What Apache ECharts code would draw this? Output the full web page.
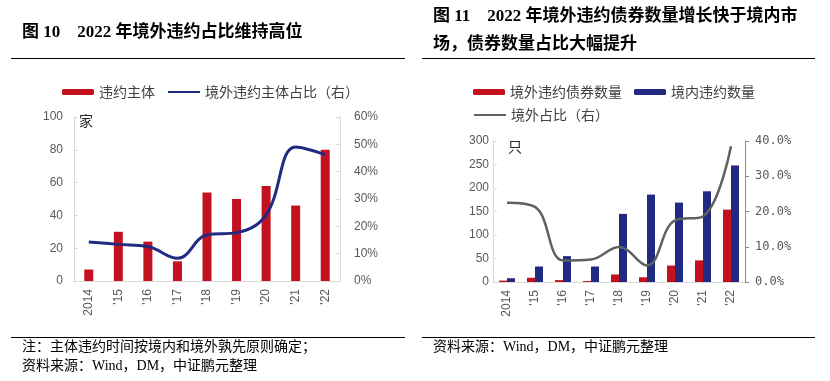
<!DOCTYPE html>
<html><head><meta charset="utf-8">
<script src="https://cdn.jsdelivr.net/npm/echarts@6/dist/echarts.min.js"></script>
<style>html,body{margin:0;padding:0;background:#fff}#c{width:830px;height:381px}</style>
</head><body><div id="c"></div>
<script>
// Chart 1 (left)
const categories = ['2014', "'15", "'16", "'17", "'18", "'19", "'20", "'21", "'22"];
const defaultEntities = [7, 30, 24, 12, 54, 50, 58, 46, 80];
const overseasEntityShare = [14.3, 13.4, 12.6, 8.3, 16.9, 17.7, 24.2, 49.0, 46.2];
// Chart 2 (right)
const overseasBonds = [3, 9, 4, 2, 16, 10, 35, 46, 154];
const domesticBonds = [8, 33, 55, 33, 145, 186, 169, 193, 248];
const overseasBondShare = [22.5, 21.3, 6.1, 6.4, 9.9, 4.7, 17.5, 18.6, 38.5];
const leftTicks = { min: 0, max: 100, interval: 20 };
const leftPctTicks = { min: 0, max: 60, interval: 10 };
const rightTicks = { min: 0, max: 300, interval: 50 };
const rightPctTicks = { min: 0, max: 40, interval: 10 };

const RED = '#C3111F', NAVY = '#1F2A80', GRAY = '#606060';
const LBL = { color: '#595959', fontSize: 12, fontFamily: 'Liberation Sans, Noto Sans CJK SC' };
const AX = '#D9D9D9';
const CJK = 'Liberation Serif, Noto Sans CJK SC';
const LEG_TXT = { fontSize: 14, color: '#404040', fontFamily: 'Noto Sans CJK SC' };

const chart = echarts.init(document.getElementById('c'), null, { renderer: 'canvas' });
chart.setOption({
  animation: false,
  backgroundColor: '#fff',
  grid: [
    { left: 74, right: 490, top: 117, bottom: 100 },
    { left: 493, right: 85, top: 141, bottom: 99 }
  ],
  legend: [
    { left: 57, top: 80, itemWidth: 32, itemHeight: 6, itemGap: 12,
      data: ['违约主体', { name: '境外违约主体占比（右）', itemStyle: { opacity: 0 } }], textStyle: LEG_TXT },
    { left: 468, top: 80, itemWidth: 32, itemHeight: 6, itemGap: 12, data: ['境外违约债券数量', '境内违约数量'], textStyle: LEG_TXT },
    { left: 468, top: 103, itemWidth: 32, itemHeight: 6,
      data: [{ name: '境外占比（右）', itemStyle: { opacity: 0 } }], textStyle: LEG_TXT }
  ],
  xAxis: [
    { type: 'category', gridIndex: 0, data: categories, axisLine: { lineStyle: { color: AX } }, axisTick: { show: false },
      axisLabel: Object.assign({ rotate: 90, margin: 8, interval: 0 }, LBL) },
    { type: 'category', gridIndex: 1, data: categories, axisLine: { lineStyle: { color: AX } }, axisTick: { show: false },
      axisLabel: Object.assign({ rotate: 90, margin: 8, interval: 0 }, LBL) }
  ],
  yAxis: [
    Object.assign({ type: 'value', gridIndex: 0, position: 'left', splitLine: { show: false },
      axisLine: { show: true, lineStyle: { color: AX } }, axisTick: { show: true, inside: true, length: 4, lineStyle: { color: AX } },
      axisLabel: Object.assign({ margin: 11 }, LBL) }, leftTicks),
    Object.assign({ type: 'value', gridIndex: 0, position: 'right', splitLine: { show: false },
      axisLine: { show: true, lineStyle: { color: AX } }, axisTick: { show: true, inside: true, length: 4, lineStyle: { color: AX } },
      axisLabel: Object.assign({ margin: 14, formatter: v => v + '%' }, LBL) }, leftPctTicks),
    Object.assign({ type: 'value', gridIndex: 1, position: 'left', splitLine: { show: false },
      axisLine: { show: true, lineStyle: { color: AX } }, axisTick: { show: true, inside: true, length: 4, lineStyle: { color: AX } },
      axisLabel: Object.assign({ margin: 4 }, LBL) }, rightTicks),
    Object.assign({ type: 'value', gridIndex: 1, position: 'right', splitLine: { show: false },
      axisLine: { show: true, lineStyle: { color: '#8C8C8C' } }, axisTick: { show: true, length: 4, lineStyle: { color: '#8C8C8C' } },
      axisLabel: Object.assign({}, LBL, { margin: 10, fontFamily: 'DejaVu Sans Mono', formatter: v => v.toFixed(1) + '%' }) }, rightPctTicks)
  ],
  series: [
    { name: '违约主体', type: 'bar', xAxisIndex: 0, yAxisIndex: 0, data: defaultEntities, barWidth: 9, itemStyle: { color: RED } },
    { name: '境外违约主体占比（右）', type: 'line', xAxisIndex: 0, yAxisIndex: 1, data: overseasEntityShare, smooth: 0.4,
      symbol: 'none', lineStyle: { color: NAVY, width: 3 }, itemStyle: { color: NAVY } },
    { name: '境外违约债券数量', type: 'bar', xAxisIndex: 1, yAxisIndex: 2, data: overseasBonds, barWidth: 8, barGap: '0%', itemStyle: { color: RED } },
    { name: '境内违约数量', type: 'bar', xAxisIndex: 1, yAxisIndex: 2, data: domesticBonds, barWidth: 8, barGap: '0%', itemStyle: { color: NAVY } },
    { name: '境外占比（右）', type: 'line', xAxisIndex: 1, yAxisIndex: 3, data: overseasBondShare, smooth: 0.4,
      symbol: 'none', lineStyle: { color: GRAY, width: 2.5 }, itemStyle: { color: GRAY } }
  ],
  graphic: [
    { type: 'text', left: 22, top: 24, style: { text: '图 10\u30002022 年境外违约占比维持高位', font: 'bold 17px ' + CJK, fill: '#000' } },
    { type: 'line', shape: { x1: 11, y1: 58.5, x2: 405, y2: 58.5 }, style: { stroke: '#000', lineWidth: 1 } },
    { type: 'text', left: 79, top: 114, style: { text: '家', font: '14px Noto Sans CJK SC', fill: '#262626' } },
    { type: 'line', shape: { x1: 11, y1: 337.5, x2: 405, y2: 337.5 }, style: { stroke: '#000', lineWidth: 1 } },
    { type: 'text', left: 22, top: 340, style: { text: '注：主体违约时间按境内和境外孰先原则确定；', font: '14px ' + CJK, fill: '#000' } },
    { type: 'text', left: 22, top: 359, style: { text: '资料来源：Wind，DM，中证鹏元整理', font: '14px ' + CJK, fill: '#000' } },

    { type: 'text', left: 433, top: 8, style: { text: '图 11\u30002022 年境外违约债券数量增长快于境内市', font: 'bold 17px ' + CJK, fill: '#000' } },
    { type: 'text', left: 433, top: 36, style: { text: '场，债券数量占比大幅提升', font: 'bold 17px ' + CJK, fill: '#000' } },
    { type: 'line', shape: { x1: 422, y1: 58.5, x2: 815, y2: 58.5 }, style: { stroke: '#000', lineWidth: 1 } },
    { type: 'text', left: 508, top: 140, style: { text: '只', font: '14px Noto Sans CJK SC', fill: '#262626' } },
    { type: 'line', shape: { x1: 422, y1: 337.5, x2: 815, y2: 337.5 }, style: { stroke: '#000', lineWidth: 1 } },
    { type: 'text', left: 433, top: 340, style: { text: '资料来源：Wind，DM，中证鹏元整理', font: '14px ' + CJK, fill: '#000' } }
  ]
});
</script></body></html>
